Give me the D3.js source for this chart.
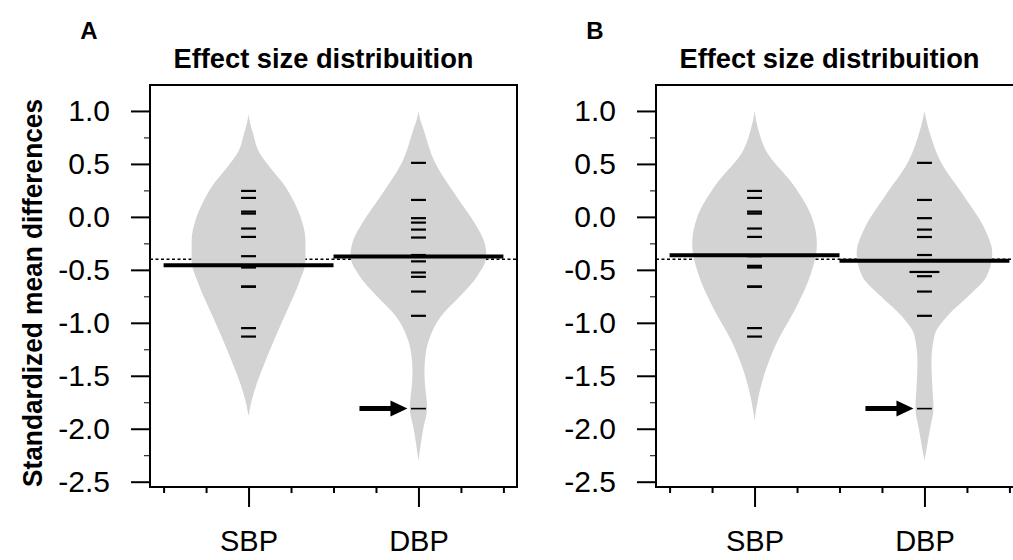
<!DOCTYPE html>
<html>
<head>
<meta charset="utf-8">
<script src="https://cdn.jsdelivr.net/npm/d3@7"></script>
<style>
  body { margin: 0; background: #fff; }
  text { font-family: "Liberation Sans", Arial, sans-serif; fill: #000; }
</style>
</head>
<body>
<svg id="chart" width="1013" height="560"></svg>
<script>
// ---- data ----
const categories = ["SBP", "DBP"];
const yMajorTicks = [1.0, 0.5, 0.0, -0.5, -1.0, -1.5, -2.0, -2.5];
const yMinorTicks = [0.75, 0.25, -0.25, -0.75, -1.25, -1.75, -2.25];
const xMajorTicks = [1, 2];
const xMinorTicks = [0.5, 0.75, 1.25, 1.5, 1.75, 2.25, 2.5];
const panelLetters = ["A", "B"];
const panelTitle = "Effect size distribuition";
const yTitle = "Standardized mean differences";

// bean lines (individual effect sizes)
const sbpBeans = [0.245, 0.179, 0.05, 0.031, -0.11, -0.189, -0.371, -0.462, -0.478, -0.657, -0.66, -1.05, -1.13];
const dbpBeansA = [0.51, 0.16, -0.012, -0.054, -0.12, -0.195, -0.36, -0.42, -0.525, -0.566, -0.705, -0.934, -1.81];
const dbpBeansB = [0.51, 0.16, -0.012, -0.12, -0.19, -0.36, -0.52, -0.52, -0.56, -0.705, -0.934, -1.81];

// density outlines: [value, half width in category units]
const sbpShapeA = [[0.97,0],[0.88,0.010],[0.78,0.028],[0.62,0.059],[0.465,0.128],[0.31,0.206],[0.15,0.265],[0,0.306],[-0.226,0.335],[-0.415,0.335],[-0.635,0.294],[-0.856,0.235],[-1.107,0.165],[-1.358,0.100],[-1.58,0.047],[-1.736,0.018],[-1.88,0]];
const dbpShapeA = [[1.0,0],[0.92,0.010],[0.83,0.029],[0.51,0.098],[0.2,0.221],[-0.054,0.329],[-0.24,0.388],[-0.37,0.400],[-0.557,0.347],[-0.745,0.247],[-0.934,0.135],[-1.12,0.071],[-1.31,0.041],[-1.47,0.035],[-1.59,0.039],[-1.81,0.051],[-2.0,0.028],[-2.3,0]];
const sbpShapeB = [[1.0,0],[0.92,0.008],[0.85,0.018],[0.62,0.069],[0.31,0.225],[0,0.337],[-0.26,0.367],[-0.54,0.331],[-0.86,0.243],[-1.17,0.136],[-1.48,0.059],[-1.74,0.018],[-1.92,0]];
const dbpShapeB = [[1.0,0],[0.92,0.010],[0.8,0.030],[0.51,0.099],[0.2,0.231],[-0.115,0.355],[-0.34,0.399],[-0.557,0.367],[-0.745,0.260],[-0.934,0.136],[-1.12,0.059],[-1.375,0.041],[-1.59,0.046],[-1.81,0.053],[-2.0,0.033],[-2.3,0]];

const groupMeansA = [-0.456, -0.375];
const groupMeansB = [-0.362, -0.415];
const overallMeans = [-0.40, -0.40];
const outlierValue = -1.81;

const panels = [
  { left: 150, shapes: [sbpShapeA, dbpShapeA], beans: [sbpBeans, dbpBeansA], means: groupMeansA, overall: overallMeans[0], yTitle: true },
  { left: 656, shapes: [sbpShapeB, dbpShapeB], beans: [sbpBeans, dbpBeansB], means: groupMeansB, overall: overallMeans[1], yTitle: false }
];

const svg = d3.select("#chart");
const plotTop = 85, plotBottom = 487, plotW = 367;
const fmt = d => d.toFixed(1);

panels.forEach((p, pi) => {
  const x = d3.scaleLinear().domain([0.42, 2.58]).range([p.left, p.left + plotW]);
  const y = d3.scaleLinear().domain([-2.55, 1.245]).range([plotBottom, plotTop]);
  const g = svg.append("g");

  // overall mean (dotted), drawn under the beans
  g.append("line")
    .attr("x1", x(0.42)).attr("x2", x(2.58))
    .attr("y1", y(p.overall)).attr("y2", y(p.overall))
    .attr("stroke", "#000").attr("stroke-width", 1.5)
    .attr("stroke-dasharray", "3,2.5");

  // violins
  const area = d3.area()
    .curve(d3.curveMonotoneY)
    .y(d => y(d[0]));
  p.shapes.forEach((shape, ci) => {
    const c = ci + 1;
    g.append("path")
      .datum(shape)
      .attr("fill", "#d3d3d3")
      .attr("d", area.x0(d => x(c - d[1])).x1(d => x(c + d[1])));
  });

  // bean lines
  p.beans.forEach((vals, ci) => {
    const c = ci + 1;
    const counts = d3.rollup(vals, v => v.length, d => d);
    g.selectAll(null)
      .data(Array.from(counts))
      .join("line")
      .attr("x1", d => x(c - 0.044 * d[1]))
      .attr("x2", d => x(c + 0.044 * d[1]))
      .attr("y1", d => y(d[0])).attr("y2", d => y(d[0]))
      .attr("stroke", "#000")
      .attr("stroke-width", d => d[0] === outlierValue ? 1.6 : 2.2);
  });

  // group means
  g.selectAll(null)
    .data(p.means)
    .join("line")
    .attr("x1", (d, i) => x(i + 0.5))
    .attr("x2", (d, i) => x(i + 1.5))
    .attr("y1", d => y(d)).attr("y2", d => y(d))
    .attr("stroke", "#000").attr("stroke-width", 4);

  // arrow pointing to the outlier
  const ay = y(outlierValue);
  const tail = x(2) - 59, tip = x(2) - 11, head = tip - 17;
  g.append("path")
    .attr("d", `M${tail},${ay - 2.5}L${head},${ay - 2.5}L${head},${ay - 8}L${tip},${ay}L${head},${ay + 8}L${head},${ay + 2.5}L${tail},${ay + 2.5}Z`)
    .attr("fill", "#000");

  // frame
  g.append("rect")
    .attr("x", p.left).attr("y", plotTop)
    .attr("width", plotW).attr("height", plotBottom - plotTop)
    .attr("fill", "none").attr("stroke", "#000").attr("stroke-width", 2);

  // y axis
  g.append("g")
    .attr("transform", `translate(${p.left},0)`)
    .call(d3.axisLeft(y).tickValues(yMinorTicks).tickSize(6).tickFormat(""))
    .call(a => a.select(".domain").remove());
  const ya = g.append("g")
    .attr("transform", `translate(${p.left},0)`)
    .call(d3.axisLeft(y).tickValues(yMajorTicks).tickSize(19).tickPadding(21).tickFormat(fmt));
  ya.select(".domain").remove();
  ya.selectAll(".tick line").attr("stroke-width", 2);
  ya.selectAll("text").attr("font-size", 30).attr("font-family", "Liberation Sans, Arial, sans-serif");

  // x axis
  g.append("g")
    .attr("transform", `translate(0,${plotBottom})`)
    .call(d3.axisBottom(x).tickValues(xMinorTicks).tickSize(6).tickFormat(""))
    .call(a => a.select(".domain").remove())
    .selectAll(".tick line").attr("stroke-width", 2);
  const xa = g.append("g")
    .attr("transform", `translate(0,${plotBottom})`)
    .call(d3.axisBottom(x).tickValues(xMajorTicks).tickSize(20).tickPadding(23).tickFormat(d => categories[d - 1]));
  xa.select(".domain").remove();
  xa.selectAll(".tick line").attr("stroke-width", 2);
  xa.selectAll("text").attr("font-size", 29).attr("font-family", "Liberation Sans, Arial, sans-serif");

  // title and letter
  g.append("text")
    .attr("x", p.left + plotW / 2 - 10).attr("y", 68)
    .attr("text-anchor", "middle")
    .attr("font-size", 28).attr("font-weight", "bold")
    .attr("textLength", 300).attr("lengthAdjust", "spacingAndGlyphs")
    .text(panelTitle);
  g.append("text")
    .attr("x", p.left - 61).attr("y", 39)
    .attr("text-anchor", "middle")
    .attr("font-size", 24).attr("font-weight", "bold")
    .text(panelLetters[pi]);

  if (p.yTitle) {
    g.append("text")
      .attr("transform", `translate(42,${(plotTop + plotBottom) / 2 + 7}) rotate(-90)`)
      .attr("text-anchor", "middle")
      .attr("font-size", 27).attr("font-weight", "bold")
      .attr("textLength", 388).attr("lengthAdjust", "spacingAndGlyphs")
      .text(yTitle);
  }
});
</script>
</body>
</html>
